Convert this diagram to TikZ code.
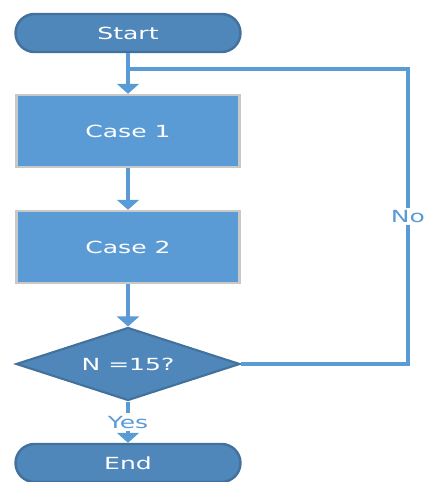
\documentclass[tikz,border=0pt]{standalone}
\usepackage{fontspec}
\setmainfont{DejaVu Sans}
\usetikzlibrary{shapes.misc,shapes.geometric,arrows.meta}
\definecolor{darkblue}{HTML}{4F87BB}
\definecolor{edgeblue}{HTML}{41719C}
\definecolor{lightblue}{HTML}{5B9BD5}
\definecolor{boxedge}{HTML}{C8C8C8}
\newcommand{\widetext}[1]{\makebox[0pt]{\scalebox{1.5}[1]{#1}}}
\tikzset{
  terminal/.style={rounded rectangle, draw=edgeblue, line width=1.4pt, fill=darkblue,
    text=white, minimum width=4.5cm, minimum height=0.76cm, inner sep=0pt},
  casebox/.style={rectangle, draw=boxedge, line width=1.4pt, fill=lightblue,
    text=white, minimum width=4.46cm, minimum height=1.44cm, inner sep=0pt},
  decision/.style={diamond, draw=edgeblue, line width=1.2pt, fill=darkblue,
    text=white, minimum width=4.48cm, minimum height=1.46cm, inner sep=0pt},
  flow/.style={draw=lightblue, line width=2.2pt},
  flowarrow/.style={flow, -{Triangle[width=0.44cm,length=0.2cm]}},
  flowlabel/.style={fill=white, text=lightblue, inner sep=1pt,
    minimum width=0.6cm, minimum height=0.36cm}
}
\begin{document}
\begin{tikzpicture}[x=0.02cm, y=-0.02cm, font=\fontsize{9.5}{11}\selectfont]
  \useasboundingbox (0,0) rectangle (424,482);
  \node[terminal] (start) at (128,33) {\widetext{Start}};
  \node[casebox] (case1) at (128,131) {\widetext{Case 1}};
  \node[casebox] (case2) at (128,247) {\widetext{Case 2}};
  \node[decision] (check) at (128,364) {\widetext{N =15?}};
  \node[terminal] (end) at (128,463) {\widetext{End}};
  \coordinate (join) at (128,69);
  \coordinate (turn) at (408,69);
  \begin{scope}[flowarrow]
    \draw (start) to (case1);
    \draw (case1) to (case2);
    \draw (case2) to (check);
    \draw (check) to node[flowlabel] {\widetext{Yes}} (end);
  \end{scope}
  \draw[flow] (check.east) -| node[flowlabel, pos=0.75] {\widetext{No}} (turn) -- (join);
\end{tikzpicture}
\end{document}
